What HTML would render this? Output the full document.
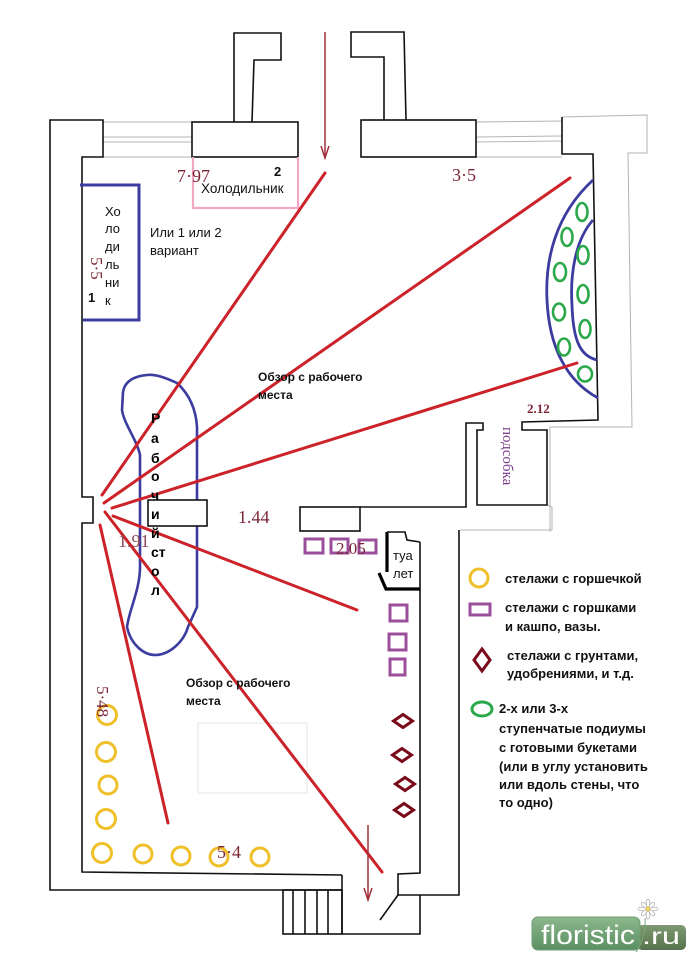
<!DOCTYPE html>
<html><head><meta charset="utf-8"><style>
html,body{margin:0;padding:0;background:#fff;}
svg{display:block;}
.s{font-family:"Liberation Sans","DejaVu Sans",sans-serif;}
.r{font-family:"Liberation Serif","DejaVu Serif",serif;}
</style></head><body>
<svg width="697" height="962" viewBox="0 0 697 962" xmlns="http://www.w3.org/2000/svg">
<rect width="697" height="962" fill="#fff"/>

<!-- faint gray lines -->
<g stroke="#b4b4b4" stroke-width="1" fill="none">
  <line x1="103" y1="122" x2="192" y2="122"/>
  <line x1="103" y1="137" x2="192" y2="137"/>
  <line x1="103" y1="142" x2="192" y2="142"/>
  <line x1="103" y1="157" x2="192" y2="157"/>
  <line x1="476" y1="122" x2="562" y2="121"/>
  <line x1="476" y1="137" x2="562" y2="136"/>
  <line x1="476" y1="142" x2="562" y2="141"/>
  <line x1="476" y1="157" x2="562" y2="157"/>
  <polyline points="562,117 647,115 647,153 628,153 632,427 550,427 550,532"/>
  <line x1="460" y1="530" x2="552" y2="530"/>
  <line x1="552" y1="507" x2="552" y2="530"/>
  <line x1="547" y1="505" x2="552" y2="507"/>
  <rect x="198" y="723" width="109" height="70" stroke="#e6e6e6"/>
</g>

<!-- black walls -->
<g stroke="#111" stroke-width="1.6" fill="none" stroke-linejoin="miter">
  <polyline points="342,875 82,872 82,523 93,523 93,497 82,497 82,157 103,157 103,120 50,120 50,890 342,890"/>
  <rect x="192" y="122" width="106" height="35"/>
  <polyline points="234,122 234,33 281,33 281,60 254,60 252,122"/>
  <rect x="361" y="120" width="115" height="37"/>
  <polyline points="384,120 384,57 351,57 351,32 404,32 406,120"/>
  <polyline points="562,117 562,154 593,154 598,420 522,422 522,430 547,430 547,505 477,505 477,430 483,430 483,423 466,423 466,507 360,507"/>
  <rect x="300" y="507" width="60" height="24"/>
  <line x1="342" y1="875" x2="342" y2="934"/>
  <rect x="283" y="890" width="59" height="44"/>
  <line x1="293" y1="890" x2="293" y2="934"/>
  <line x1="305" y1="890" x2="305" y2="934"/>
  <line x1="317" y1="890" x2="317" y2="934"/>
  <line x1="328" y1="890" x2="328" y2="934"/>
  <polyline points="342,934 420,934 420,895"/>
  <polyline points="420,542 420,873 398,874 398,895 459,895 459,530"/>
  <line x1="398" y1="895" x2="380" y2="920"/>
  <polyline points="387,532 405,532 407,540 420,542"/>
</g>
<g stroke="#000" stroke-width="3.2" fill="none">
  <line x1="387" y1="532" x2="387" y2="572"/>
  <polyline points="379,573 386,589 420,589"/>
</g>

<!-- pink fridge -->
<polyline points="193,157 193,208 298,208 298,157" fill="none" stroke="#f2a9c6" stroke-width="2.2"/>
<!-- blue fridge -->
<polyline points="80,185 139,185 139,320 83,320" fill="none" stroke="#3c3ca0" stroke-width="3"/>

<!-- blue work table -->
<path d="M147,375 C136,376 125,380 123,392 L122,410 C124,424 137,440 140,455 L140,567 C140,590 129,610 127,627 C131,645 144,655 155,655 C170,655 184,641 188,627 L197,607 L197,427 C196,410 190,395 177,383 C166,378 156,374 147,375 Z" fill="none" stroke="#3c3ca0" stroke-width="2.6"/>
<rect x="148" y="500" width="59" height="26" fill="#fff" stroke="#111" stroke-width="1.6"/>

<!-- blue arcs right -->
<path d="M593,180 C555,215 545,260 547,300 C549,345 565,380 598,398" fill="none" stroke="#3c3ca0" stroke-width="2.8"/>
<path d="M593,220 C575,240 570,275 572,305 C573,340 580,356 597,360" fill="none" stroke="#3c3ca0" stroke-width="2.8"/>

<!-- green ellipses -->
<g fill="none" stroke="#2aa84a" stroke-width="2.6">
  <ellipse cx="582" cy="212" rx="5.5" ry="9"/>
  <ellipse cx="567" cy="237" rx="5.5" ry="9"/>
  <ellipse cx="583" cy="255" rx="5.5" ry="9"/>
  <ellipse cx="560" cy="272" rx="6" ry="9"/>
  <ellipse cx="583" cy="294" rx="5.5" ry="9"/>
  <ellipse cx="559" cy="312" rx="6" ry="8.5"/>
  <ellipse cx="585" cy="329" rx="5.5" ry="9"/>
  <ellipse cx="564" cy="347" rx="6" ry="8.5"/>
  <ellipse cx="585" cy="374" rx="7" ry="7.5"/>
</g>

<!-- red sight lines -->
<g stroke="#cc2229" stroke-width="3" stroke-linecap="round">
  <line x1="102" y1="495" x2="325" y2="173"/>
  <line x1="104" y1="503" x2="570" y2="178"/>
  <line x1="112" y1="508" x2="577" y2="363"/>
  <line x1="113" y1="516" x2="357" y2="610"/>
  <line x1="105" y1="512" x2="382" y2="872"/>
  <line x1="100" y1="525" x2="168" y2="823"/>
</g>

<!-- arrows -->
<g stroke="#a0303a" stroke-width="1.5" fill="none">
  <line x1="325" y1="32" x2="325" y2="158"/>
  <polyline points="321,146 325,158 329,146"/>
  <line x1="368" y1="825" x2="368" y2="900"/>
  <polyline points="364,888 368,900 372,888"/>
</g>

<!-- purple squares -->
<g fill="none" stroke="#9b4f9b" stroke-width="3">
  <rect x="305" y="539" width="18" height="14"/>
  <rect x="331" y="539" width="17" height="14"/>
  <rect x="359" y="540" width="17" height="13"/>
  <rect x="390" y="605" width="17" height="16"/>
  <rect x="389" y="634" width="17" height="16"/>
  <rect x="390" y="659" width="15" height="16"/>
</g>

<!-- diamonds -->
<g fill="none" stroke="#7a0a1a" stroke-width="3">
  <polygon points="403,714.5 412.5,721 403,727.5 393.5,721"/>
  <polygon points="402,748.5 411.5,755 402,761.5 392.5,755"/>
  <polygon points="405,777.5 414.5,784 405,790.5 395.5,784"/>
  <polygon points="404,803.5 413.5,810 404,816.5 394.5,810"/>
</g>

<!-- yellow circles -->
<g fill="none" stroke="#f0c02a" stroke-width="3">
  <circle cx="107" cy="715" r="9.5"/>
  <circle cx="106" cy="752" r="9.5"/>
  <circle cx="108" cy="785" r="9"/>
  <circle cx="106" cy="819" r="9.5"/>
  <circle cx="102" cy="853" r="9.5"/>
  <circle cx="143" cy="854" r="9"/>
  <circle cx="181" cy="856" r="9"/>
  <circle cx="219" cy="857" r="9"/>
  <circle cx="260" cy="857" r="9"/>
</g>

<!-- dimension labels -->
<g class="r" fill="#7d2535" font-size="18">
  <text x="177" y="182">7·97</text>
  <text x="452" y="181">3·5</text>
  <text x="118" y="547" fill="#8e4a58">1.91</text>
  <text x="238" y="523">1.44</text>
  <text x="336" y="554" font-size="17">2.05</text>
  <text x="217" y="858">5·4</text>
  <text x="527" y="413" font-size="13" font-weight="bold">2.12</text>
  <text x="91" y="257" font-size="17" transform="rotate(90 91 257)">5·5</text>
  <text x="97" y="686" font-size="17" transform="rotate(90 97 686)">5·48</text>
</g>
<text class="r" x="503" y="427" font-size="15" fill="#7a3a8a" transform="rotate(90 503 427)">подсобка</text>

<!-- regular labels -->
<g class="s" fill="#111" font-size="13">
  <text x="201" y="193" font-size="13.5">Холодильник</text>
  <text x="274" y="176" font-weight="bold">2</text>
  <text x="105" y="216">Хо</text>
  <text x="105" y="233">ло</text>
  <text x="105" y="251">ди</text>
  <text x="105" y="269">ль</text>
  <text x="105" y="287">ни</text>
  <text x="105" y="305">к</text>
  <text x="88" y="302" font-weight="bold">1</text>
  <text x="150" y="237">Или 1 или 2</text>
  <text x="150" y="255">вариант</text>
  <text x="393" y="560">туа</text>
  <text x="393" y="578">лет</text>
</g>
<g class="s" fill="#111" font-size="12" font-weight="bold">
  <text x="258" y="381">Обзор с рабочего</text>
  <text x="258" y="399">места</text>
  <text x="186" y="687">Обзор с рабочего</text>
  <text x="186" y="705">места</text>
</g>
<g class="s" fill="#000" font-size="14" font-weight="bold">
  <text x="151" y="423">Р</text>
  <text x="151" y="443">а</text>
  <text x="151" y="463">б</text>
  <text x="151" y="481">о</text>
  <text x="151" y="500">ч</text>
  <text x="151" y="519">и</text>
  <text x="151" y="538">й</text>
  <text x="151" y="557">ст</text>
  <text x="151" y="576">о</text>
  <text x="151" y="595">л</text>
</g>

<!-- legend -->
<circle cx="479" cy="578" r="9" fill="none" stroke="#f0c02a" stroke-width="3"/>
<rect x="470" y="604" width="20" height="11" fill="none" stroke="#9b4f9b" stroke-width="3"/>
<polygon points="482,649 490,660 482,671 474,660" fill="none" stroke="#7a0a1a" stroke-width="3"/>
<ellipse cx="482" cy="709" rx="10" ry="7" fill="none" stroke="#2aa84a" stroke-width="3"/>
<g class="s" fill="#111" font-size="13" font-weight="bold">
  <text x="505" y="583">стелажи с горшечкой</text>
  <text x="505" y="612">стелажи с горшками</text>
  <text x="505" y="631">и кашпо, вазы.</text>
  <text x="507" y="660">стелажи с грунтами,</text>
  <text x="507" y="678">удобрениями, и т.д.</text>
  <text x="499" y="713">2-х или 3-х</text>
  <text x="499" y="733">ступенчатые подиумы</text>
  <text x="499" y="752">с готовыми букетами</text>
  <text x="499" y="771">(или в углу установить</text>
  <text x="499" y="789">или вдоль стены, что</text>
  <text x="499" y="807">то одно)</text>
</g>

<!-- watermark -->
<defs>
  <linearGradient id="g1" x1="0" y1="0" x2="0" y2="1">
    <stop offset="0" stop-color="#8cb88c"/>
    <stop offset="1" stop-color="#5a8f62"/>
  </linearGradient>
  <linearGradient id="g2" x1="0" y1="0" x2="0" y2="1">
    <stop offset="0" stop-color="#7e9a72"/>
    <stop offset="1" stop-color="#56734c"/>
  </linearGradient>
</defs>
<rect x="637" y="925" width="49" height="25" rx="5" fill="url(#g2)"/>
<rect x="532" y="917" width="108" height="33" rx="6" fill="url(#g1)" stroke="#6f9e72" stroke-width="1"/>
<text class="s" x="541" y="944" font-size="27" fill="#fff" textLength="94" lengthAdjust="spacingAndGlyphs">floristic</text>
<text class="s" x="642" y="944" font-size="23" fill="#fff" textLength="38" lengthAdjust="spacingAndGlyphs">.ru</text>
<path d="M645,918 C646,930 642,945 636,952" fill="none" stroke="#7aa57a" stroke-width="1"/>
<g fill="#fff" stroke="#aaa" stroke-width="0.7">
  <ellipse cx="648" cy="903" rx="1.8" ry="4"/>
  <ellipse cx="648" cy="915" rx="1.8" ry="4"/>
  <ellipse cx="642" cy="909" rx="4" ry="1.8"/>
  <ellipse cx="654" cy="909" rx="4" ry="1.8"/>
  <ellipse cx="644" cy="905" rx="1.8" ry="3.5" transform="rotate(-45 644 905)"/>
  <ellipse cx="652" cy="905" rx="1.8" ry="3.5" transform="rotate(45 652 905)"/>
  <ellipse cx="644" cy="913" rx="1.8" ry="3.5" transform="rotate(45 644 913)"/>
  <ellipse cx="652" cy="913" rx="1.8" ry="3.5" transform="rotate(-45 652 913)"/>
</g>
<circle cx="648" cy="909" r="2.5" fill="#e8d060"/>
</svg>
</body></html>
